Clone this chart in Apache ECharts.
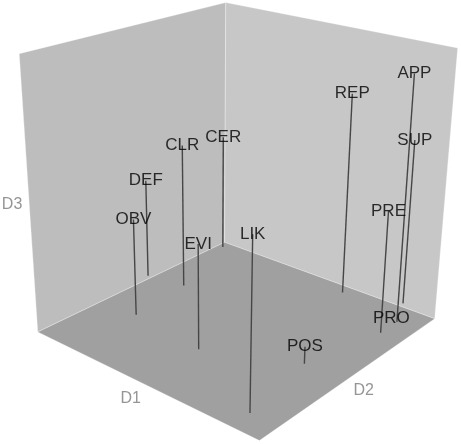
<!DOCTYPE html>
<html><head><meta charset="utf-8">
<script src="https://cdn.jsdelivr.net/npm/echarts@6/dist/echarts.min.js"></script>
<style>html,body{margin:0;padding:0;background:#fff}#chart{width:461px;height:444px}</style>
</head><body><div id="chart"></div>
<script>
// ---- data (D1, D2, D3 coordinates of each item) ----
const labels = ['APP','SUP','REP','PRE','PRO','POS','LIK','EVI','CER','CLR','DEF','OBV'];
const d1 = [0.82, 0.70, 0.26, 0.82, 0.76, 0.67, 0.77, 0.01, -0.95, -0.72, -1.04, -0.66];
const d2 = [0.78, 1.05, 0.90, 0.57, 0.80, -0.12, -0.81, -0.44, 0.92, 0.20, 0.14, -0.37];
const d3 = [0.84, 0.28, 0.56, -0.07, -1.00, -0.87, 0.21, -0.21, -0.05, 0.13, -0.21, -0.25];
const axisNames = ['D1','D2','D3'];
const range = [-1, 1];

// ---- camera ----
const cam = {azimuth:-0.6951, elevation:0.3874, roll:-0.0105, distance:7.5865, scale:147.83, cx:240.53, cy:194.81};
function project(x, y, z) {
  const ca = Math.cos(cam.azimuth), sa = Math.sin(cam.azimuth);
  const ce = Math.cos(cam.elevation), se = Math.sin(cam.elevation);
  const x1 = x*ca - y*sa, y1 = x*sa + y*ca;
  const u = y1*se + z*ce;
  const depth = cam.distance + y1*ce - z*se;
  const f = cam.distance / depth;
  const X = x1*f, U = u*f;
  const cr = Math.cos(cam.roll), sr = Math.sin(cam.roll);
  return [X*cr - U*sr, X*sr + U*cr];
}
const W = 461, H = 444;
const lo = range[0], hi = range[1];

// box faces: left wall (D1 = min), right wall (D2 = max), floor (D3 = min)
const faces = [
  {corners:[[lo,lo,lo],[lo,hi,lo],[lo,hi,hi],[lo,lo,hi]], color:'#bdbdbd'},
  {corners:[[lo,hi,lo],[hi,hi,lo],[hi,hi,hi],[lo,hi,hi]], color:'#c7c7c7'},
  {corners:[[lo,lo,lo],[hi,lo,lo],[hi,hi,lo],[lo,hi,lo]], color:'#a0a0a0'}
];

const pts = labels.map((n,i)=>({name:n, p:[d1[i], d2[i], d3[i]]}));

const chart = echarts.init(document.getElementById('chart'), null, {renderer:'canvas'});
chart.setOption({
  animation:false,
  backgroundColor:'#ffffff',
  grid:{left:0, right:0, top:0, bottom:0},
  xAxis:{type:'value', min:-cam.cx/cam.scale, max:(W-cam.cx)/cam.scale, show:false},
  yAxis:{type:'value', min:(cam.cy-H)/cam.scale, max:cam.cy/cam.scale, show:false},
  series:[
    {
      type:'custom', z:1, silent:true,
      data: faces.map((f,i)=>[i]),
      renderItem:(params, api)=>{
        const f = faces[params.dataIndex];
        const poly = f.corners.map(c=>api.coord(project(c[0],c[1],c[2])));
        return {type:'polygon', shape:{points:poly},
          style:{fill:f.color, stroke:'rgba(255,255,255,0.28)', lineWidth:1}};
      }
    },
    {
      type:'custom', z:2, silent:true,
      data: pts.map((d,i)=>[i]),
      renderItem:(params, api)=>{
        const p = pts[params.dataIndex].p;
        const a = api.coord(project(p[0],p[1],p[2]));
        const b = api.coord(project(p[0],p[1],lo));
        return {type:'line', shape:{x1:a[0],y1:a[1],x2:b[0],y2:b[1]},
          style:{stroke:'#464646', lineWidth:1.4}};
      }
    },
    {
      type:'scatter', z:3, silent:true, symbolSize:0,
      data: pts.map(d=>({name:d.name, value:project(d.p[0],d.p[1],d.p[2])})),
      label:{show:true, position:'inside', formatter:'{b}', color:'#000',
        fontFamily:'Liberation Sans, Arial, sans-serif', fontSize:17,
        align:'center', verticalAlign:'middle'}
    },
    {
      type:'scatter', z:3, silent:true, symbolSize:0,
      data:[
        {name:axisNames[0], value:project(0.10, -1.18, lo)},
        {name:axisNames[1], value:project(1.16, -0.14, lo)},
        {name:axisNames[2], value:project(-1.08, -1.08, -0.03)}
      ],
      label:{show:true, position:'inside', formatter:'{b}', color:'#7a7a7a',
        fontFamily:'Liberation Sans, Arial, sans-serif', fontSize:16,
        align:'center', verticalAlign:'middle'}
    }
  ]
});
</script></body></html>
